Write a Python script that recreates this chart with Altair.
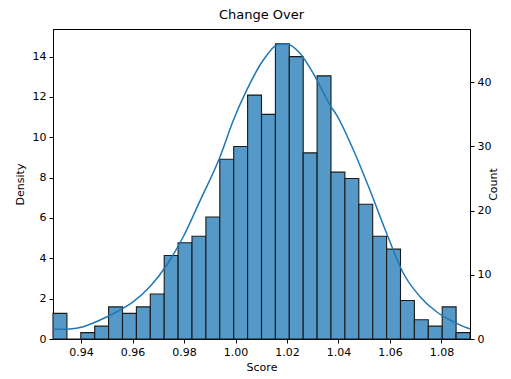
import altair as alt
import numpy as np
import pandas as pd

# --- data ---
bin_lo = 0.9291
bin_hi = 1.0911
counts = [4, 0, 1, 2, 5, 4, 5, 7, 13, 15, 16, 19, 28, 30, 38,
          35, 46, 44, 29, 41, 26, 25, 21, 16, 14, 6, 3, 2, 5, 1]

kde_x = [0.9291, 0.9357, 0.9409, 0.9474, 0.9539, 0.9603, 0.9668, 0.9733,
         0.9797, 0.9862, 0.9940, 0.9992, 1.0044, 1.0108, 1.0173,
         1.0199, 1.0251, 1.0302, 1.0328, 1.0367, 1.0393, 1.0458, 1.0522,
         1.0587, 1.0652, 1.0717, 1.0781, 1.0846, 1.0904, 1.0911]
kde_y = [0.48, 0.50, 0.61, 0.94, 1.35, 1.85, 2.60, 3.67,
         5.07, 6.85, 9.04, 10.86, 12.35, 13.83, 14.63,
         14.63, 14.16, 13.17, 12.55, 11.60, 11.10, 9.37, 7.39,
         5.24, 3.26, 2.10, 1.35, 0.86, 0.53, 0.50]

x_ticks = [0.94, 0.96, 0.98, 1.00, 1.02, 1.04, 1.06, 1.08]
density_ticks = [0, 2, 4, 6, 8, 10, 12, 14]
count_ticks = [0, 10, 20, 30, 40]

edges = np.linspace(bin_lo, bin_hi, len(counts) + 1)
hist = pd.DataFrame({"start": edges[:-1], "end": edges[1:], "count": counts})
kde = pd.DataFrame({"score": kde_x, "density": kde_y})

FONT = "DejaVu Sans"
xdom = [bin_lo, bin_hi]
xscale = alt.Scale(domain=xdom, nice=False, zero=False)
xaxis = alt.Axis(values=x_ticks, format=".2f", title="Score", grid=False, titlePadding=4)

bars = alt.Chart(hist).mark_rect(
    color="#5499c7", stroke="#1a1a1a", strokeWidth=1.1
).encode(
    x=alt.X("start:Q", scale=xscale, axis=xaxis),
    x2="end:Q",
    y=alt.Y("count:Q", scale=alt.Scale(domain=[0, 48.3], nice=False),
            axis=alt.Axis(orient="right", values=count_ticks, title="Count", grid=False,
                          titleAngle=270, titlePadding=8)),
)

line = alt.Chart(kde).mark_line(color="#1f77b4", strokeWidth=1.5, interpolate="monotone").encode(
    x=alt.X("score:Q", scale=xscale, axis=xaxis),
    y=alt.Y("density:Q", scale=alt.Scale(domain=[0, 15.37], nice=False),
            axis=alt.Axis(orient="left", values=density_ticks, title="Density", grid=False,
                          titlePadding=7)),
)

chart = alt.layer(bars, line).resolve_scale(y="independent").properties(
    width=417, height=310,
    background="white",
    title=alt.TitleParams("Change Over", font=FONT, fontSize=13, fontWeight="normal",
                          color="black", offset=7, anchor="middle"),
    autosize=alt.AutoSizeParams(type="none"),
    padding={"left": 53, "top": 29, "right": 41, "bottom": 40},
).configure_view(
    stroke="black", strokeWidth=1
).configure_axis(
    labelFont=FONT, labelFontSize=11, labelColor="black",
    titleFont=FONT, titleFontSize=11, titleFontWeight="normal", titleColor="black",
    tickColor="black", tickSize=4, domainColor="black", domainWidth=1,
    grid=False, labelPadding=3
)

chart.save("out.html", embed_options={"renderer": "svg", "actions": False})
